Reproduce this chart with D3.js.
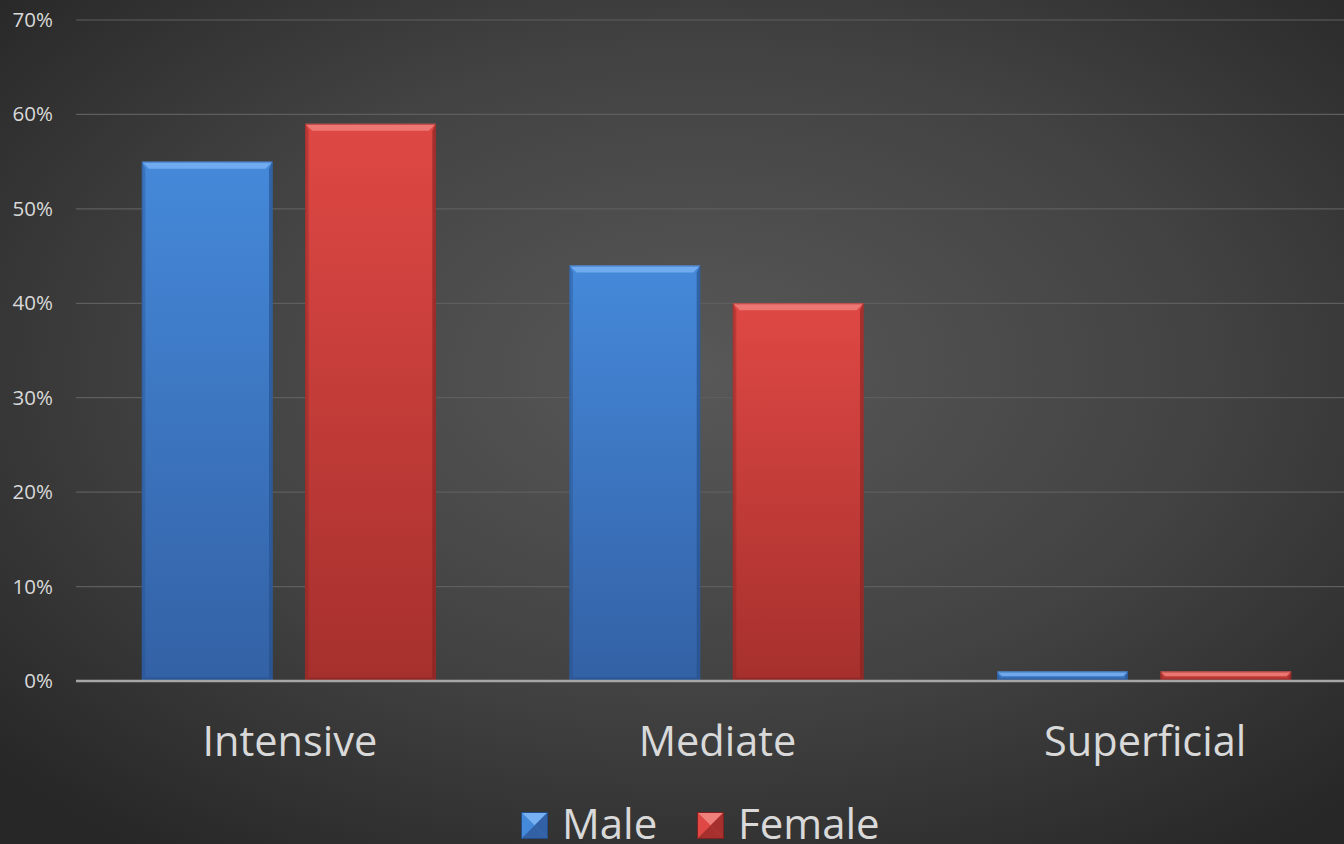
<!DOCTYPE html>
<html>
<head>
<meta charset="utf-8">
<script src="https://cdn.jsdelivr.net/npm/d3@7"></script>
<style>
  html, body { margin: 0; padding: 0; background: #2b2b2b; }
  svg { display: block; }
</style>
</head>
<body>
<svg id="chart" width="1344" height="844"></svg>
<script>
// Data
const categories = ["Intensive", "Mediate", "Superficial"];
const seriesNames = ["Male", "Female"];
const maleValues = [0.55, 0.44, 0.01];
const femaleValues = [0.59, 0.40, 0.01];
const yTicks = [0, 0.1, 0.2, 0.3, 0.4, 0.5, 0.6, 0.7];

const seriesValues = { Male: maleValues, Female: femaleValues };
const palette = {
  Male:   { top: "#4589da", bottom: "#3361a5", light: "#78b1f2", dark: "#244c86", edge: "#2d5a9c" },
  Female: { top: "#df4844", bottom: "#a6302d", light: "#f0807b", dark: "#7e2220", edge: "#9a2d2a" }
};

const W = 1344, H = 844;
// the category area runs slightly past the right edge of the canvas
const plot = { left: 75, right: 1358, top: 20, bottom: 681 };
const font = "'Open Sans', 'Noto Sans', sans-serif";
const textColor = "#d9d9d9";

const svg = d3.select("#chart");
const defs = svg.append("defs");

// Background: soft radial glow
const bg = defs.append("radialGradient").attr("id", "bg")
  .attr("cx", "52%").attr("cy", "44%").attr("r", "70%");
bg.append("stop").attr("offset", "0%").attr("stop-color", "#585858");
bg.append("stop").attr("offset", "55%").attr("stop-color", "#424242");
bg.append("stop").attr("offset", "100%").attr("stop-color", "#272727");
svg.append("rect").attr("width", W).attr("height", H).attr("fill", "url(#bg)");

// Bar gradients
seriesNames.forEach(s => {
  const g = defs.append("linearGradient").attr("id", "grad-" + s)
    .attr("x1", 0).attr("y1", 0).attr("x2", 0).attr("y2", 1);
  g.append("stop").attr("offset", "0%").attr("stop-color", palette[s].top);
  g.append("stop").attr("offset", "100%").attr("stop-color", palette[s].bottom);
});

// Scales
const x0 = d3.scaleBand().domain(categories).range([plot.left, plot.right]).padding(0);
const groupPad = (x0.bandwidth() - 294) / 2;
const x1 = d3.scaleBand().domain(seriesNames)
  .range([groupPad, x0.bandwidth() - groupPad]).paddingInner(0.2).paddingOuter(0);
const y = d3.scaleLinear().domain([0, 0.7]).range([plot.bottom, plot.top]);

// Gridlines
svg.append("g")
  .selectAll("line").data(yTicks.filter(t => t > 0)).join("line")
  .attr("x1", 76).attr("x2", W)
  .attr("y1", d => y(d)).attr("y2", d => y(d))
  .attr("stroke", "#5e5e5e").attr("stroke-width", 1.2);

// Y axis labels
const yAxis = d3.axisLeft(y).tickValues(yTicks).tickFormat(d3.format(".0%")).tickSize(0).tickPadding(23);
const yG = svg.append("g").attr("transform", `translate(76,0)`).call(yAxis);
yG.select(".domain").remove();
yG.selectAll("text").attr("fill", textColor).attr("font-family", font).attr("font-size", 20.5);

// Bars with bevelled edges
const groups = svg.append("g").selectAll("g").data(categories).join("g")
  .attr("transform", d => `translate(${x0(d)},0)`);

groups.each(function(cat, ci) {
  const g = d3.select(this);
  seriesNames.forEach(s => {
    const v = seriesValues[s][ci];
    const bx = x1(s), bw = x1.bandwidth();
    const yt = y(v), yb = y(0);
    const h = yb - yt;
    const b = Math.min(7, h / 2);
    const p = palette[s];
    g.append("rect").attr("x", bx).attr("y", yt).attr("width", bw).attr("height", h)
      .attr("fill", `url(#grad-${s})`);
    const poly = pts => pts.map(q => q.join(",")).join(" ");
    // top bevel
    g.append("polygon").attr("points", poly([[bx, yt], [bx + bw, yt], [bx + bw - b, yt + b], [bx + b, yt + b]]))
      .attr("fill", p.light).attr("opacity", 0.85);
    // left bevel
    g.append("polygon").attr("points", poly([[bx, yt], [bx + b * 0.5, yt + b], [bx + b * 0.5, yb - b * 0.5], [bx, yb]]))
      .attr("fill", p.dark).attr("opacity", 0.35);
    // right bevel
    g.append("polygon").attr("points", poly([[bx + bw, yt], [bx + bw - b * 0.5, yt + b], [bx + bw - b * 0.5, yb - b * 0.5], [bx + bw, yb]]))
      .attr("fill", p.dark).attr("opacity", 0.6);
    // bottom bevel
    g.append("polygon").attr("points", poly([[bx, yb], [bx + b * 0.5, yb - b * 0.5], [bx + bw - b * 0.5, yb - b * 0.5], [bx + bw, yb]]))
      .attr("fill", p.dark).attr("opacity", 0.5);
    g.append("rect").attr("x", bx + 0.5).attr("y", yt + 0.5).attr("width", bw - 1).attr("height", h - 1)
      .attr("fill", "none").attr("stroke", p.edge).attr("stroke-width", 1).attr("opacity", 0.6);
  });
});

// Zero line
svg.append("line").attr("x1", 76).attr("x2", W)
  .attr("y1", y(0)).attr("y2", y(0)).attr("stroke", "#a6a6a6").attr("stroke-width", 2.5);

// Category labels
svg.append("g").selectAll("text").data(categories).join("text")
  .attr("x", d => x0(d) + x0.bandwidth() / 2 + 1)
  .attr("y", 756)
  .attr("text-anchor", "middle")
  .attr("fill", textColor).attr("font-family", font).attr("font-size", 41.5)
  .text(d => d);

// Legend
const legendItems = [{ name: "Male", x: 521 }, { name: "Female", x: 697 }];
const lg = svg.append("g");
legendItems.forEach(item => {
  const p = palette[item.name];
  const s = 27, lx = item.x, ly = 812, c = s / 2;
  const poly = pts => pts.map(q => q.join(",")).join(" ");
  lg.append("rect").attr("x", lx).attr("y", ly).attr("width", s).attr("height", s).attr("fill", p.top);
  lg.append("polygon").attr("points", poly([[lx, ly], [lx + s, ly], [lx + c, ly + c]])).attr("fill", p.light);
  lg.append("polygon").attr("points", poly([[lx, ly], [lx, ly + s], [lx + c, ly + c]])).attr("fill", p.top);
  lg.append("polygon").attr("points", poly([[lx + s, ly], [lx + s, ly + s], [lx + c, ly + c]])).attr("fill", p.bottom);
  lg.append("polygon").attr("points", poly([[lx, ly + s], [lx + s, ly + s], [lx + c, ly + c]])).attr("fill", p.bottom);
  lg.append("rect").attr("x", lx + 0.5).attr("y", ly + 0.5).attr("width", s - 1).attr("height", s - 1)
    .attr("fill", "none").attr("stroke", p.dark).attr("stroke-width", 1);
  lg.append("text").attr("x", lx + s + 14).attr("y", 839)
    .attr("fill", textColor).attr("font-family", font).attr("font-size", 42)
    .text(item.name);
});
</script>
</body>
</html>
